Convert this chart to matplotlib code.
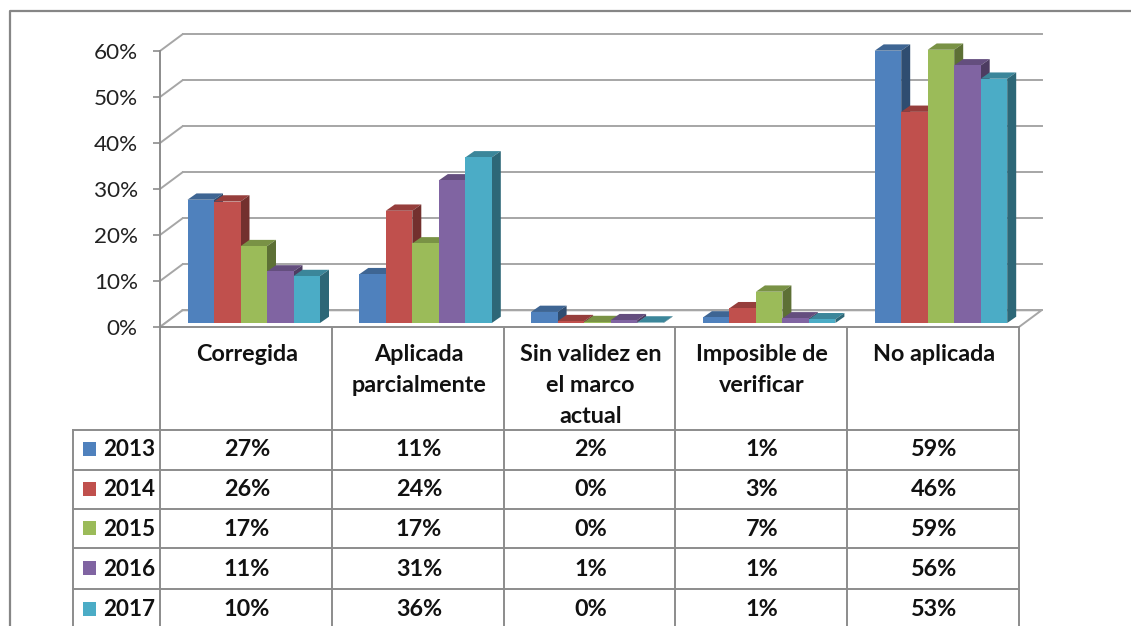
import matplotlib
matplotlib.use('Agg')
import matplotlib.pyplot as plt
import numpy as np

plt.rcParams['font.family'] = ['Lato', 'DejaVu Sans']

categories = ['Corregida', 'Aplicada\nparcialmente', 'Sin validez en\nel marco\nactual',
              'Imposible de\nverificar', 'No aplicada']
years = ['2013', '2014', '2015', '2016', '2017']
colors = ['#4F81BD', '#C0504D', '#9BBB59', '#8064A2', '#4BACC6']

v2013 = [26.8, 10.6, 2.4, 1.2, 59.2]
v2014 = [26.4, 24.4, 0.4, 3.2, 45.9]
v2015 = [16.7, 17.3, 0.2, 6.8, 59.4]
v2016 = [11.2, 31.0, 0.6, 1.0, 56.0]
v2017 = [10.2, 36.0, 0.1, 0.8, 53.1]
series = [v2013, v2014, v2015, v2016, v2017]

yticks = [0, 10, 20, 30, 40, 50, 60]

W, H = 1131, 626
grey = '#8C8C8C'
grid = '#A6A6A6'
txt_size = 16.8

fig = plt.figure(figsize=(W / 100, H / 100), dpi=100, facecolor='white')

# pixel axes for the frame and the data table
bg = fig.add_axes([0, 0, 1, 1])
bg.set_xlim(0, W)
bg.set_ylim(H, 0)
bg.axis('off')

bg.plot([10, 10, W], [H, 11, 11], color='#868686', lw=1.6)

col_x = [160, 332, 504, 675, 847, 1019]
row_y = [430, 470, 509, 548, 589]
for x in col_x:
    bg.plot([x, x], [327, H], color=grey, lw=1.4)
bg.plot([73, 73], [row_y[0], H], color=grey, lw=1.4)
for y in row_y:
    bg.plot([73, col_x[-1]], [y, y], color=grey, lw=1.4)

centers = [(col_x[i] + col_x[i + 1]) / 2 for i in range(5)]
for cx, name in zip(centers, categories):
    bg.text(cx + 1, 344, name, ha='center', va='top', fontsize=txt_size, fontweight='bold',
            color='#111111', linespacing=1.59)

row_c = [450, 490, 529, 569, 610]
for yr, c, vals, yc in zip(years, colors, series, row_c):
    bg.fill([83, 96, 96, 83], [yc - 8, yc - 8, yc + 6, yc + 6], color=c, lw=0)
    bg.text(103, yc, yr, ha='left', va='center', fontsize=16.2, fontweight='bold', color='#111111')
    for cx, v in zip(centers, vals):
        bg.text(cx + 1, yc, '%d%%' % round(v), ha='center', va='center', fontsize=txt_size,
                fontweight='bold', color='#111111')

# chart axes, 0% at y=327 and 60% at y=51
ax = fig.add_axes([160 / W, 1 - 327 / H, (1019 - 160) / W, (327 - 51) / H])
ax.patch.set_alpha(0)
ax.set_xlim(-0.5, 4.5)
ax.set_ylim(0, 60)
px_x = 5 / (1019 - 160)
px_y = 60 / (327 - 51)

back_dx = 22.5 * px_x
back_dy = 16.7 * px_y

for v in yticks:
    ax.plot([-0.5, -0.5 + back_dx], [v, v + back_dy], color=grid, lw=1.4, clip_on=False, zorder=1)
    ax.plot([-0.5 + back_dx, 4.5 + back_dx], [v + back_dy, v + back_dy], color=grid, lw=1.4,
            clip_on=False, zorder=1)
ax.fill([-0.5, 4.5, 4.5 + back_dx, -0.5 + back_dx], [0, 0, back_dy, back_dy], color='white',
        lw=0, zorder=1.5, clip_on=False)
ax.plot([-0.5 + back_dx, 4.5 + back_dx, 4.5], [back_dy, back_dy, 0], color=grid, lw=1.4,
        clip_on=False, zorder=1.6)
ax.plot([-0.5, -0.5 + back_dx], [0, back_dy], color=grid, lw=1.4, clip_on=False, zorder=1.6)


def shade(hex_color, f):
    rgb = np.array(matplotlib.colors.to_rgb(hex_color))
    return tuple(rgb * f)


bar_w = 26.5 * px_x
base = 4 * px_y
depth_x = 9 * px_x
depth_y = 6.3 * px_y
z = 2
for i in range(5):
    left = i - 0.5 + 27.5 * px_x
    for j, vals in enumerate(series):
        x0 = left + j * bar_w
        x1 = x0 + bar_w
        top = base + vals[i]
        c = colors[j]
        ax.fill([x0, x1, x1 + depth_x, x0 + depth_x],
                [top, top, top + depth_y, top + depth_y],
                color=shade(c, 0.78), lw=0, zorder=z, clip_on=False)
        ax.fill([x1, x1 + depth_x, x1 + depth_x, x1],
                [base, base + depth_y, top + depth_y, top],
                color=shade(c, 0.6), lw=0, zorder=z + 0.1, clip_on=False)
        ax.bar(x0, vals[i], bar_w, bottom=base, align='edge', color=c, lw=0, zorder=z + 0.2,
               clip_on=False)
        z += 1

for s in ['top', 'right']:
    ax.spines[s].set_visible(False)
for s in ['left', 'bottom']:
    ax.spines[s].set_color(grey)
    ax.spines[s].set_linewidth(1.4)
    ax.spines[s].set_zorder(100)
ax.set_xticks([])
ax.set_yticks(yticks)
ax.set_yticklabels(['%d%%' % v for v in yticks], fontsize=16.2, color='#222222')
ax.tick_params(axis='y', length=5, width=1.2, color=grey, pad=11)

fig.savefig('out.png', dpi=100)
